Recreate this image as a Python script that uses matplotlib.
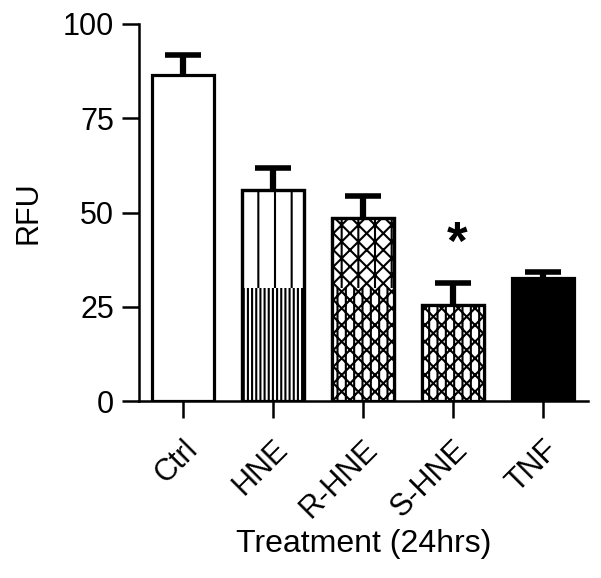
import numpy as np
import matplotlib.pyplot as plt

plt.rcParams['font.family'] = ['Liberation Sans', 'DejaVu Sans']
plt.rcParams['hatch.linewidth'] = 1.5

# data
groups = ['Ctrl', 'HNE', 'R-HNE', 'S-HNE', 'TNF']
rfu = [86.5, 56.0, 48.5, 25.5, 32.5]
sem = [5.3, 5.8, 5.9, 5.8, 1.6]
signif = ['', '', '', '*', '']

faces = ['white', 'white', 'white', 'white', 'black']
hatch_top = [None, '|', '|xx', 'xx||', None]
hatch_low = [None, '||||', '||xx', 'xx||', None]
split = 30  # pattern tile boundary in the original

fig = plt.figure(figsize=(6.01, 5.78), dpi=100)
ax = fig.add_axes([0.2313, 0.3062, 0.7467, 0.6523])

x = np.arange(len(groups))
w = 0.69
for i in range(len(groups)):
    ax.bar(x[i], rfu[i], width=w, color=faces[i], edgecolor='black',
           linewidth=2.3, hatch=hatch_top[i], zorder=2)
    if hatch_low[i] is not None:
        ax.bar(x[i], min(rfu[i], split), width=w, color='white', edgecolor='black',
               linewidth=0, hatch=hatch_low[i], zorder=2.5)
        ax.bar(x[i], rfu[i], width=w, fill=False, edgecolor='black',
               linewidth=2.3, zorder=3)

# upper error bars only
top = np.array(rfu) + np.array(sem)
ax.vlines(x, rfu, top, color='black', linewidth=4.5, zorder=4)
ax.hlines(top, x - 0.2, x + 0.2, color='black', linewidth=4.0, zorder=4)

for i, s in enumerate(signif):
    if s:
        ax.text(x[i] + 0.05, top[i] + 3.5, s, ha='center', va='bottom',
                fontsize=38, fontweight='bold')

ax.set_xlim(-0.49, 4.5)
ax.set_ylim(0, 100)
ax.set_yticks([0, 25, 50, 75, 100])
ax.set_xticks(x)
ax.set_xticklabels(groups, rotation=45, ha='right', rotation_mode='anchor')
ax.tick_params(axis='both', labelsize=22, length=12, width=1.8, pad=6)
ax.tick_params(axis='x', pad=12)
for side in ['top', 'right']:
    ax.spines[side].set_visible(False)
for side in ['left', 'bottom']:
    ax.spines[side].set_linewidth(1.8)

ax.set_ylabel('RFU', fontsize=22, labelpad=14)
ax.set_xlabel('Treatment (24hrs)', fontsize=23, labelpad=4)

fig.savefig('out.png', dpi=100)
